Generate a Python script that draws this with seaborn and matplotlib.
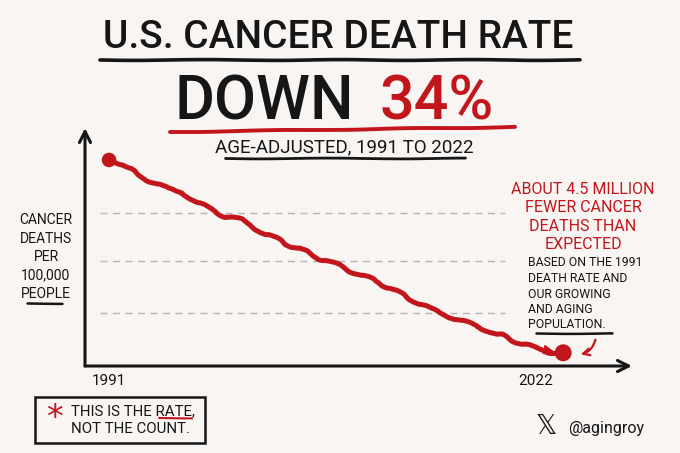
import numpy as np
import pandas as pd
import matplotlib.pyplot as plt
import matplotlib.transforms as mtransforms
import seaborn as sns
from matplotlib.lines import Line2D
from matplotlib.patches import FancyArrowPatch, Rectangle

# age-adjusted cancer death rate per 100,000
years = list(range(1991, 2023))
rate = [215.1, 213.6, 209.1, 206.8, 204.1, 203.0, 198.8, 196.5, 193.5, 192.4,
        189.0, 186.7, 183.3, 181.8, 178.4, 176.9, 174.2, 172.0, 169.7, 167.1,
        164.1, 161.4, 158.4, 156.5, 154.2, 152.3, 150.4, 148.2, 145.9, 144.0,
        142.5, 142.1]
grid_levels = [195, 177, 157]
tick_years = [1991, 2022]
tick_labels = ["1991", "2022"]

RED = "#c3161c"
INK = "#161616"
BG = "#f8f5f3"

sns.set_theme(style="white")
plt.rcParams["font.family"] = ["Roboto", "DejaVu Sans"]

df = pd.DataFrame({"year": years, "rate": rate})

W, H = 680, 453
fig = plt.figure(figsize=(6.8, 4.53), dpi=100, facecolor=BG)


def fx(x):
    return x / W


def fy(y):
    return 1 - y / H


def underline(x0, x1, y0, y1=None, color=INK, lw=2.0):
    y1 = y0 if y1 is None else y1
    ln = Line2D([fx(x0), fx(x1)], [fy(y0), fy(y1)], color=color, lw=lw,
                solid_capstyle="round", transform=fig.transFigure)
    ln.set_sketch_params(scale=0.4, length=150, randomness=2)
    fig.add_artist(ln)


ax = fig.add_axes([fx(85), fy(366), fx(632) - fx(85), fy(128) - fy(366)])
ax.set_facecolor(BG)

ax.hlines(grid_levels, 1990.4, 2018, colors="#b4b4b4", linestyles=(0, (5, 4)), lw=1)

sns.lineplot(data=df, x="year", y="rate", color=RED, lw=3.6, ax=ax)
ax.lines[-1].set_sketch_params(scale=1.6, length=45, randomness=3)
# little arrow head running into the last point
ax.annotate("", xy=(years[-1], rate[-1]), xytext=(years[-3], rate[-3]),
            arrowprops=dict(arrowstyle="-|>", color=RED, lw=0.5,
                            mutation_scale=16, shrinkA=0, shrinkB=7))
sns.scatterplot(data=df.iloc[[0]], x="year", y="rate", color=RED, s=110,
                edgecolor="none", ax=ax, zorder=5)
sns.scatterplot(data=df.iloc[[-1]], x="year", y="rate", color=RED, s=150,
                edgecolor="none", ax=ax, zorder=5)

ax.set_xlim(1989.36, 2026.7)
ax.set_ylim(137.1, 227.2)
for s in ax.spines.values():
    s.set_visible(False)
ax.set_xticks(tick_years, tick_labels)
ax.set_yticks([])
ax.tick_params(axis="x", length=0, pad=6, labelsize=11, colors=INK)
ax.set_xlabel("")
ax.set_ylabel("")
last = ax.get_xticklabels()[-1]
last.set_transform(last.get_transform() +
                   mtransforms.ScaledTranslation(-20 / 72, 0, fig.dpi_scale_trans))

arrow_kw = dict(arrowstyle="->", lw=2.2, color=INK, mutation_scale=20,
                shrinkA=0, shrinkB=0)
ax.annotate("", xy=(0, 1), xytext=(0, 0), xycoords="axes fraction",
            arrowprops=arrow_kw)
ax.annotate("", xy=(1, 0), xytext=(0, 0), xycoords="axes fraction",
            arrowprops=arrow_kw)

# headline
fig.text(fx(338), fy(48), "U.S. CANCER DEATH RATE", ha="center", va="baseline",
         fontsize=28, fontweight="medium", color=INK)
underline(100, 580, 60, lw=2.6)
fig.text(fx(354), fy(120), "DOWN", ha="right", va="baseline",
         fontsize=44, fontweight="medium", color=INK)
fig.text(fx(380), fy(120), "34%", ha="left", va="baseline",
         fontsize=44, fontweight="medium", color=RED)
underline(170, 515, 132, 127, color=RED, lw=2.8)
fig.text(fx(344), fy(152), "AGE-ADJUSTED, 1991 TO 2022", ha="center", va="baseline",
         fontsize=13.5, color=INK)
underline(225, 465, 158, lw=2.0)

# y label
fig.text(fx(46), fy(257), "CANCER\nDEATHS\nPER\n100,000\nPEOPLE", ha="center",
         va="center", fontsize=10, linespacing=1.4, color=INK)
underline(27, 62, 303, lw=1.8)

# annotation
fig.text(fx(583), fy(217), "ABOUT 4.5 MILLION\nFEWER CANCER\nDEATHS THAN\nEXPECTED",
         ha="center", va="center", fontsize=11.5, linespacing=1.3, color=RED)
fig.text(fx(528), fy(294), "BASED ON THE 1991\nDEATH RATE AND\nOUR GROWING\nAND AGING\nPOPULATION.",
         ha="left", va="center", fontsize=8.8, linespacing=1.25, color=INK)
underline(536, 612, 333, lw=1.8)
fig.add_artist(FancyArrowPatch((fx(596), fy(337)), (fx(578), fy(355)),
                               transform=fig.transFigure,
                               connectionstyle="arc3,rad=-0.35",
                               arrowstyle="->", mutation_scale=12,
                               lw=1.6, color=RED))

# footnote box
fig.add_artist(Rectangle((fx(35), fy(443)), fx(205) - fx(35), fy(397) - fy(443),
                         transform=fig.transFigure, fill=False, lw=1.8,
                         edgecolor=INK))
fig.text(fx(54), fy(419), "*", ha="center", va="center", fontsize=24,
         color=RED, family=["DejaVu Sans"])
fig.text(fx(71), fy(420), "THIS IS THE RATE,\nNOT THE COUNT.", ha="left",
         va="center", fontsize=10.8, linespacing=1.35, color=INK)
underline(159, 192, 418, color=RED, lw=1.5)

# credit
fig.text(fx(546), fy(427), "𝕏", ha="center", va="center", fontsize=19,
         color=INK, family=["DejaVu Sans"])
fig.text(fx(568), fy(428), "@agingroy", ha="left", va="center", fontsize=11.5,
         color=INK)

fig.savefig("out.png", dpi=100, facecolor=BG)
